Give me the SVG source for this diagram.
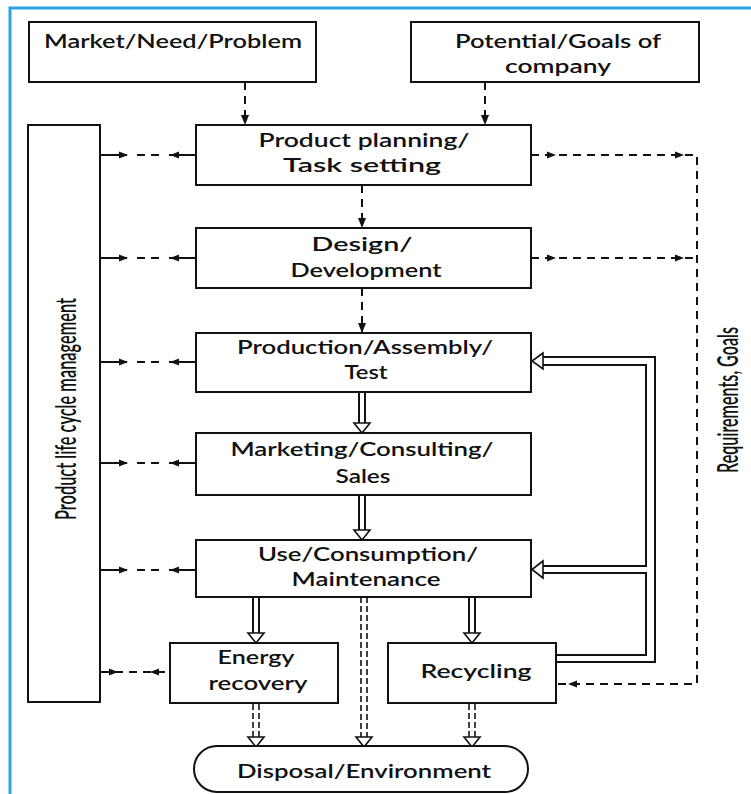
<svg xmlns="http://www.w3.org/2000/svg" xmlns:xlink="http://www.w3.org/1999/xlink" width="751" height="794" viewBox="0 0 751 794">
<style>
.bx{fill:#fff;stroke:#111;stroke-width:2}
.t{font-family:Lato,"Liberation Sans",sans-serif;font-weight:600;font-size:19px;fill:#111;text-anchor:middle}
.rt{font-family:Lato,"Liberation Sans",sans-serif;font-weight:600;font-size:28px;fill:#111;text-anchor:middle}
.ds{fill:none;stroke:#111;stroke-width:2;stroke-dasharray:8 6}
.dl{fill:none;stroke:#111;stroke-width:2;stroke-dasharray:26 10 8 6 8 10 40}
.sl{fill:none;stroke:#111;stroke-width:2}
.dd{fill:none;stroke:#111;stroke-width:1.6;stroke-dasharray:6 3}
.hh{fill:#fff;stroke:#111;stroke-width:1.6;stroke-linejoin:miter}
.ah{fill:#111}
</style>
<defs>
<marker id="arr" viewBox="0 0 10 10" refX="9" refY="5" markerWidth="5" markerHeight="5" orient="auto">
<path d="M0,1 L10,5 L0,9 z" fill="#111"/>
</marker>
<path id="tr" d="M-9,-3.5 L0,0 L-9,3.5 z" class="ah"/>
<path id="tl" d="M9,-3.5 L0,0 L9,3.5 z" class="ah"/>
</defs>

<!-- frame -->
<path d="M10,794 V8 H751" fill="none" stroke="#2ea3e3" stroke-width="3"/>

<g id="connectors">
<!-- top dashed arrows -->
<path class="ds" d="M245,82 V124" marker-end="url(#arr)"/>
<path class="ds" d="M485,82 V124" marker-end="url(#arr)"/>
<path class="ds" d="M362,185 V227" marker-end="url(#arr)"/>
<path class="ds" d="M362,288 V332" marker-end="url(#arr)"/>

<!-- left connectors to PLM -->
<path class="dl" d="M101,155 H196"/><use xlink:href="#tr" x="128" y="155"/><use xlink:href="#tl" x="170" y="155"/>
<path class="dl" d="M101,258 H196"/><use xlink:href="#tr" x="128" y="258"/><use xlink:href="#tl" x="170" y="258"/>
<path class="dl" d="M101,362 H196"/><use xlink:href="#tr" x="128" y="362"/><use xlink:href="#tl" x="170" y="362"/>
<path class="dl" d="M101,463 H196"/><use xlink:href="#tr" x="128" y="463"/><use xlink:href="#tl" x="170" y="463"/>
<path class="dl" d="M101,570 H196"/><use xlink:href="#tr" x="128" y="570"/><use xlink:href="#tl" x="170" y="570"/>
<path class="ds" d="M101,672 H170"/><use xlink:href="#tr" x="118" y="672"/><use xlink:href="#tl" x="150" y="672"/>

<!-- right requirements dashed -->
<path class="ds" d="M531,155 H697 V684 H557"/>
<path class="ds" d="M531,258 H697"/>
<use xlink:href="#tr" x="556" y="155"/><use xlink:href="#tr" x="684" y="155"/>
<use xlink:href="#tr" x="556" y="258"/><use xlink:href="#tr" x="684" y="258"/>
<use xlink:href="#tl" x="568" y="684"/>

<!-- hollow double arrows -->
<g>
<path class="sl" d="M359,392 V423 M365,392 V423" stroke-width="1.6"/>
<path class="hh" d="M354,423 H370 L362,433 Z"/>
<path class="sl" d="M359,495 V530 M365,495 V530" stroke-width="1.6"/>
<path class="hh" d="M354,530 H370 L362,540 Z"/>
<path class="sl" d="M253,597 V633 M259,597 V633" stroke-width="1.6"/>
<path class="hh" d="M248,633 H264 L256,643 Z"/>
<path class="sl" d="M469,597 V633 M475,597 V633" stroke-width="1.6"/>
<path class="hh" d="M464,633 H480 L472,643 Z"/>
<path class="dd" d="M361,597 V737 M367,597 V737"/>
<path class="hh" d="M356,737 H372 L364,747 Z"/>
<path class="dd" d="M253,704 V737 M259,704 V737"/>
<path class="hh" d="M248,737 H264 L256,747 Z"/>
<path class="dd" d="M469,704 V737 M475,704 V737"/>
<path class="hh" d="M464,737 H480 L472,747 Z"/>
</g>

<!-- recycling loop -->
<path class="sl" d="M556,662 H655 V357 H541"/>
<path class="sl" d="M556,655 H646 V573 H541"/>
<path class="sl" d="M541,566 H646 V365 H541"/>
<path class="hh" d="M543,353 L532,361 L543,369 Z"/>
<path class="hh" d="M543,561 L532,569.5 L543,578 Z"/>
</g>

<g id="market"><rect class="bx" x="29" y="22" width="287" height="60"/>
<text class="t" x="173" y="48" textLength="258" lengthAdjust="spacingAndGlyphs">Market/Need/Problem</text></g>

<g id="potential"><rect class="bx" x="411" y="22" width="288" height="60"/>
<text class="t" x="558" y="48" textLength="206" lengthAdjust="spacingAndGlyphs">Potential/Goals of</text>
<text class="t" x="558" y="73" textLength="106" lengthAdjust="spacingAndGlyphs">company</text></g>

<g id="plm"><rect class="bx" x="28" y="125" width="72" height="577"/>
<text class="rt" transform="translate(76,409) rotate(-90)" textLength="222" lengthAdjust="spacingAndGlyphs">Product life cycle management</text></g>

<g id="planning"><rect class="bx" x="196" y="125" width="335" height="60"/>
<text class="t" x="364" y="147" textLength="211" lengthAdjust="spacingAndGlyphs">Product planning/</text>
<text class="t" x="362" y="172" textLength="158" lengthAdjust="spacingAndGlyphs">Task setting</text></g>

<g id="design"><rect class="bx" x="196" y="228" width="335" height="60"/>
<text class="t" x="362" y="251" textLength="101" lengthAdjust="spacingAndGlyphs">Design/</text>
<text class="t" x="366" y="277" textLength="151" lengthAdjust="spacingAndGlyphs">Development</text></g>

<g id="production"><rect class="bx" x="196" y="333" width="335" height="59"/>
<text class="t" x="365" y="354" textLength="256" lengthAdjust="spacingAndGlyphs">Production/Assembly/</text>
<text class="t" x="366" y="379" textLength="43" lengthAdjust="spacingAndGlyphs">Test</text></g>

<g id="marketing"><rect class="bx" x="196" y="433" width="335" height="62"/>
<text class="t" x="362" y="456" textLength="263" lengthAdjust="spacingAndGlyphs">Marketing/Consulting/</text>
<text class="t" x="363" y="483" textLength="55" lengthAdjust="spacingAndGlyphs">Sales</text></g>

<g id="use"><rect class="bx" x="196" y="540" width="335" height="57"/>
<text class="t" x="368" y="561" textLength="220" lengthAdjust="spacingAndGlyphs">Use/Consumption/</text>
<text class="t" x="366" y="586" textLength="149" lengthAdjust="spacingAndGlyphs">Maintenance</text></g>

<g id="energy"><rect class="bx" x="170" y="643" width="168" height="60"/>
<text class="t" x="256" y="664" textLength="77" lengthAdjust="spacingAndGlyphs">Energy</text>
<text class="t" x="258" y="690" textLength="99" lengthAdjust="spacingAndGlyphs">recovery</text></g>

<g id="recycling"><rect class="bx" x="388" y="643" width="168" height="60"/>
<text class="t" x="476" y="678" textLength="111" lengthAdjust="spacingAndGlyphs">Recycling</text></g>

<g id="disposal"><rect class="bx" x="194" y="746" width="334" height="46" rx="23"/>
<text class="t" x="364" y="778" textLength="254" lengthAdjust="spacingAndGlyphs">Disposal/Environment</text></g>

<g id="requirements">
<text class="rt" transform="translate(738,400) rotate(-90)" textLength="146" lengthAdjust="spacingAndGlyphs">Requirements, Goals</text></g>
</svg>
